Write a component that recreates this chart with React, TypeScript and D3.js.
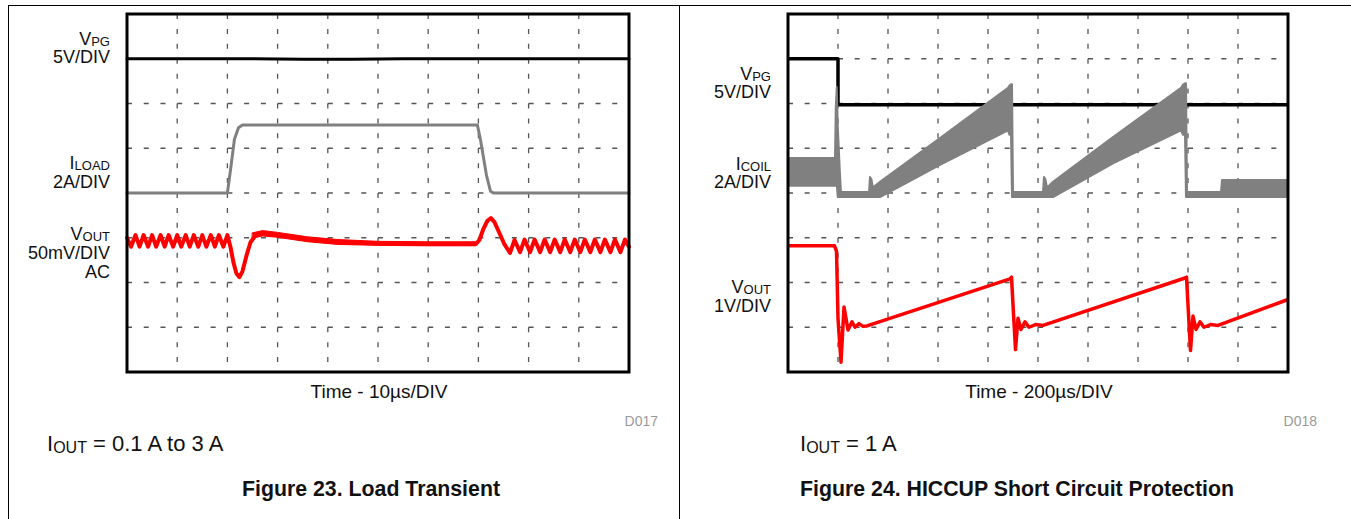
import React from 'react';
import * as d3 from 'd3';

type Pt = [number, number];
type Band = [number, number, number];

// ---------- Figure 23: Load transient (x in divisions 0..10, y in divisions 0..8) ----------
const f23Vpg: Pt[] = [[0, 7], [2.5, 7], [3.5, 6.99], [4.5, 6.99], [5.5, 7], [10, 7]];
const f23Iload: Pt[] = [
  [0, 4], [2.0, 4], [2.06, 4.5], [2.14, 5.2], [2.22, 5.46], [2.3, 5.52], [6.98, 5.52],
  [7.04, 5.2], [7.16, 4.4], [7.24, 4.04], [7.3, 4], [10, 4],
];
const f23Vout: Pt[] = [
  [0, 3.0], [0.08, 2.8], [0.17, 3.06], [0.25, 2.8], [0.33, 3.06], [0.42, 2.8], [0.5, 3.06],
  [0.58, 2.8], [0.67, 3.06], [0.75, 2.8], [0.83, 3.06], [0.92, 2.8], [1.0, 3.06], [1.08, 2.8],
  [1.17, 3.06], [1.25, 2.8], [1.33, 3.06], [1.42, 2.8], [1.5, 3.06], [1.58, 2.8], [1.67, 3.06],
  [1.75, 2.8], [1.83, 3.06], [1.92, 2.8], [2.0, 3.06],
  [2.06, 2.8], [2.12, 2.45], [2.18, 2.2], [2.24, 2.12], [2.3, 2.25], [2.38, 2.6], [2.46, 2.9],
  [2.56, 3.05], [2.7, 3.1], [2.9, 3.07], [3.2, 3.02], [3.6, 2.96], [4.2, 2.9], [5.0, 2.87],
  [6.0, 2.86], [6.95, 2.86],
  [7.02, 2.95], [7.1, 3.2], [7.18, 3.38], [7.25, 3.44], [7.32, 3.35], [7.42, 3.1], [7.52, 2.85],
  [7.63, 2.66], [7.72, 2.95], [7.83, 2.68], [7.92, 2.96], [8.03, 2.68], [8.12, 2.96], [8.23, 2.68],
  [8.32, 2.96], [8.43, 2.68], [8.52, 2.96], [8.63, 2.68], [8.72, 2.96], [8.83, 2.68], [8.92, 2.96],
  [9.03, 2.68], [9.12, 2.96], [9.23, 2.68], [9.32, 2.96], [9.43, 2.68], [9.52, 2.96], [9.63, 2.68],
  [9.72, 2.96], [9.83, 2.68], [9.92, 2.96], [10, 2.8],
];
const f23VoutNoise: Band[] = [
  [2.5, 2.99, 3.11], [2.7, 3.04, 3.16], [3.0, 3.01, 3.12], [3.6, 2.91, 3.02], [4.2, 2.85, 2.96],
  [5.0, 2.83, 2.92], [6.0, 2.82, 2.91], [6.95, 2.82, 2.91],
];

// ---------- Figure 24: HICCUP short circuit protection ----------
const f24Vpg: Pt[] = [[0, 7], [1.0, 7], [1.0, 5.97], [10, 5.97]];
const f24Icoil: Band[] = [
  [0, 4.16, 4.78], [0.94, 4.16, 4.78], [0.955, 4.16, 5.9], [0.975, 4.2, 6.37], [0.995, 3.91, 5.5],
  [1.04, 3.91, 4.4], [1.06, 3.91, 4.02], [1.62, 3.91, 4.02], [1.64, 3.91, 4.36], [1.67, 3.91, 4.3],
  [1.7, 3.91, 4.12], [1.84, 3.91, 4.25], [3.04, 4.63, 5.23], [4.4, 5.4, 6.35], [4.43, 5.3, 6.4],
  [4.46, 5.3, 6.43], [4.48, 3.91, 6.43], [4.5, 3.91, 4.02], [5.1, 3.91, 4.02], [5.12, 3.91, 4.36],
  [5.15, 3.91, 4.3], [5.18, 3.91, 4.12], [5.3, 3.91, 4.25], [6.5, 4.66, 5.25], [7.86, 5.4, 6.35],
  [7.9, 5.3, 6.42], [7.94, 5.3, 6.45], [7.96, 3.91, 6.45], [7.98, 3.91, 4.02], [8.66, 3.91, 4.02],
  [8.68, 3.91, 4.29], [10, 3.91, 4.29],
];
const f24Vout: Pt[] = [
  [0, 2.82], [0.93, 2.82], [0.97, 2.7], [1.0, 1.2], [1.06, 0.22], [1.12, 1.45], [1.2, 0.94],
  [1.28, 1.12], [1.34, 1.0], [1.42, 1.08], [1.5, 1.02], [1.58, 1.03], [4.44, 2.08], [4.47, 2.12],
  [4.5, 1.5], [4.55, 0.5], [4.6, 1.2], [4.66, 0.95], [4.74, 1.12], [4.82, 1.0], [4.95, 1.06],
  [5.1, 1.04], [7.94, 2.1], [7.97, 2.12], [8.0, 1.5], [8.05, 0.48], [8.1, 1.25], [8.16, 0.95],
  [8.24, 1.12], [8.32, 1.0], [8.45, 1.06], [8.6, 1.04], [10, 1.62],
];

// ---------- Texts ----------
const f23Labels = [['V', 'PG'], ['5V/DIV', ''], ['I', 'LOAD'], ['2A/DIV', ''], ['V', 'OUT'], ['50mV/DIV', ''], ['AC', '']];
const f24Labels = [['V', 'PG'], ['5V/DIV', ''], ['I', 'COIL'], ['2A/DIV', ''], ['V', 'OUT'], ['1V/DIV', '']];
const f23LabelY = [45, 63, 169, 188, 240, 259, 278];
const f24LabelY = [80, 98, 170, 188, 293, 312];
const timeLabels = ['Time - 10µs/DIV', 'Time - 200µs/DIV'];
const codes = ['D017', 'D018'];
const conditions = [' = 0.1 A to 3 A', ' = 1 A'];
const captions = ['Figure 23. Load Transient', 'Figure 24. HICCUP Short Circuit Protection'];

const FONT = '"Liberation Sans", Arial, Helvetica, sans-serif';
const DIV_X = 10;
const DIV_Y = 8;

interface PanelProps {
  x0: number; x1: number; y0: number; y1: number;
  children: (x: d3.ScaleLinear<number, number>, y: d3.ScaleLinear<number, number>) => React.ReactNode;
}

function Panel({ x0, x1, y0, y1, children }: PanelProps) {
  const x = d3.scaleLinear().domain([0, DIV_X]).range([x0, x1]);
  const y = d3.scaleLinear().domain([0, DIV_Y]).range([y1, y0]);
  const dxs = d3.range(1, DIV_X);
  const dys = d3.range(1, DIV_Y);
  const hdx = (x(1) - x(0)) / 3;
  const hdy = (y(0) - y(1)) / 3;
  return (
    <g>
      {dxs.map((i) => (
        <line key={'v' + i} x1={x(i)} x2={x(i)} y1={y0} y2={y1} stroke="#555" strokeWidth={1.3}
          strokeDasharray={`5,${hdy - 5}`} />
      ))}
      {dys.map((j) => (
        <line key={'h' + j} x1={x0} x2={x1} y1={y(j)} y2={y(j)} stroke="#555" strokeWidth={1.3}
          strokeDasharray={`5,${hdx - 5}`} />
      ))}
      {children(x, y)}
      <rect x={x0} y={y0} width={x1 - x0} height={y1 - y0} fill="none" stroke="#000" strokeWidth={3} />
    </g>
  );
}

function LabelBlock({ labels, ys, right }: { labels: string[][]; ys: number[]; right: number }) {
  return (
    <g fontFamily={FONT} fontSize={18} fill="#111" textAnchor="end">
      {labels.map((l, i) => (
        <text key={i} x={right} y={ys[i]}>
          {l[0]}
          {l[1] ? <tspan fontSize={13} dy={1}>{l[1]}</tspan> : null}
        </text>
      ))}
    </g>
  );
}

export default function App() {
  const line = (x: any, y: any) => d3.line<Pt>().x((d) => x(d[0])).y((d) => y(d[1]));
  const area = (x: any, y: any) => d3.area<Band>().x((d) => x(d[0])).y0((d) => y(d[1])).y1((d) => y(d[2]));
  const panels = [
    { x0: 127, x1: 629 },
    { x0: 788, x1: 1288 },
  ];
  return (
    <svg width={1351} height={519} style={{ position: 'absolute', left: 0, top: 0, background: '#fff' }}>
      <rect x={0} y={0} width={1351} height={519} fill="#fff" />
      {/* table frame */}
      <line x1={8} x2={1351} y1={5.5} y2={5.5} stroke="#000" strokeWidth={1} />
      <line x1={8.5} x2={8.5} y1={5} y2={519} stroke="#000" strokeWidth={1} />
      <line x1={679.5} x2={679.5} y1={5} y2={519} stroke="#000" strokeWidth={1} />

      <Panel x0={panels[0].x0} x1={panels[0].x1} y0={14} y1={372}>
        {(x, y) => (
          <g fill="none" strokeLinejoin="round" strokeLinecap="round">
            <path d={line(x, y)(f23Vpg) || ''} stroke="#000" strokeWidth={3} />
            <path d={line(x, y)(f23Iload) || ''} stroke="#808080" strokeWidth={3} />
            <path d={area(x, y)(f23VoutNoise) || ''} fill="#ff0000" stroke="#ff0000" strokeWidth={1} />
            <path d={line(x, y)(f23Vout) || ''} stroke="#ff0000" strokeWidth={4} />
          </g>
        )}
      </Panel>
      <Panel x0={panels[1].x0} x1={panels[1].x1} y0={14} y1={372}>
        {(x, y) => (
          <g fill="none" strokeLinejoin="round">
            <path d={line(x, y)(f24Vpg) || ''} stroke="#000" strokeWidth={3.5} />
            <path d={area(x, y)(f24Icoil) || ''} fill="#808080" stroke="#808080" strokeWidth={2} />
            <path d={line(x, y)(f24Vout) || ''} stroke="#ff0000" strokeWidth={3.5} />
          </g>
        )}
      </Panel>

      <LabelBlock labels={f23Labels} ys={f23LabelY} right={110} />
      <LabelBlock labels={f24Labels} ys={f24LabelY} right={771} />

      <g fontFamily={FONT} fill="#111">
        {panels.map((p, i) => (
          <text key={'t' + i} x={(p.x0 + p.x1) / 2 + 1} y={398} fontSize={19} textAnchor="middle">{timeLabels[i]}</text>
        ))}
        {panels.map((p, i) => (
          <text key={'c' + i} x={p.x1 + 29} y={426} fontSize={14} textAnchor="end" fill="#999">{codes[i]}</text>
        ))}
        {[47, 800].map((xx, i) => (
          <text key={'o' + i} x={xx} y={451} fontSize={22}>
            I<tspan fontSize={16} dy={2}>OUT</tspan><tspan dy={-2}>{conditions[i]}</tspan>
          </text>
        ))}
        {[371, 1017].map((xx, i) => (
          <text key={'f' + i} x={xx} y={496} fontSize={21.3} fontWeight="bold" textAnchor="middle">{captions[i]}</text>
        ))}
      </g>
    </svg>
  );
}
